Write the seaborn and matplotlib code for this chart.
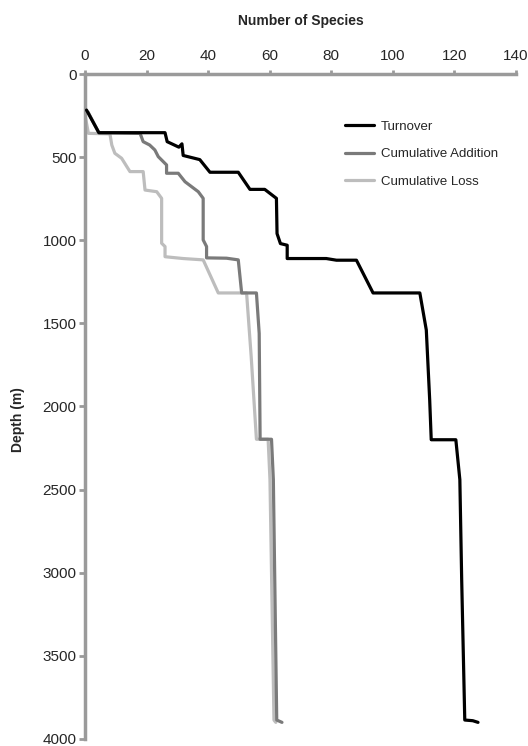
import matplotlib
matplotlib.use("Agg")
import matplotlib.pyplot as plt
import seaborn as sns
import pandas as pd

# values (species count vs depth in m)
turnover_species = [0.5, 4.5, 26, 26.7, 30.5, 31.5, 31.9, 37.3, 40.6, 49.8, 53.6, 58.4, 62.2, 62.4,
                    63.5, 65.7, 65.7, 78.4, 81.7, 88.2, 93.6, 108.8, 110.9, 112, 112.5, 120.5, 121.8,
                    122.4, 123.4, 126, 127.7]
turnover_depth = [217, 353, 353, 407, 440, 420, 490, 515, 591, 591, 694, 694, 748, 960,
                  1020, 1030, 1110, 1110, 1120, 1120, 1317, 1317, 1540, 1960, 2200, 2200, 2440,
                  3044, 3886, 3890, 3900]

addition_species = [1, 4.5, 17.9, 18.9, 21, 22.7, 23.8, 26.5, 26.5, 30.3, 32.5, 36.8, 38.4, 38.4,
                    39.5, 39.5, 46, 49.8, 50.9, 55.7, 56.6, 56.9, 60.6, 61.2, 62.3, 64]
addition_depth = [230, 353, 357, 407, 427, 457, 497, 547, 597, 597, 648, 708, 748, 998,
                  1038, 1106, 1108, 1118, 1317, 1317, 1560, 2197, 2197, 2440, 3886, 3900]

loss_species = [0, 1.1, 8.1, 8.7, 9.7, 11.9, 14.6, 18.9, 19.5, 23.3, 24.9, 24.9, 26, 26,
                31.9, 38.4, 43.3, 52.5, 54, 55.7, 59.5, 60.1, 61.4, 62]
loss_depth = [247, 357, 360, 427, 477, 507, 587, 587, 698, 708, 748, 1018, 1038, 1099,
              1110, 1118, 1317, 1317, 1700, 2197, 2197, 2440, 3886, 3900]

series_names = ['Turnover', 'Cumulative Addition', 'Cumulative Loss']
series_colors = ['#000000', '#7a7a7a', '#bdbdbd']

df = pd.concat([
    pd.DataFrame({'species': turnover_species, 'depth': turnover_depth, 'series': 'Turnover'}),
    pd.DataFrame({'species': addition_species, 'depth': addition_depth, 'series': 'Cumulative Addition'}),
    pd.DataFrame({'species': loss_species, 'depth': loss_depth, 'series': 'Cumulative Loss'}),
], ignore_index=True)

sns.set_style('white')
plt.rcParams['font.family'] = ['Liberation Sans', 'DejaVu Sans']

fig = plt.figure(figsize=(5.28, 7.46), dpi=100)
ax = fig.add_axes([0.161, 0.0094, 0.816, 0.8914])

# draw light lines first so black sits on top
for name, col, z in zip(series_names, series_colors, [3, 2, 1]):
    sns.lineplot(data=df[df['series'] == name], x='species', y='depth', sort=False,
                 estimator=None, color=col, linewidth=2.3, ax=ax, label=name, zorder=z)

ax.set_xlim(0, 140)
ax.set_ylim(4000, 0)
ax.set_xticks(range(0, 141, 20))
ax.set_yticks(range(0, 4001, 500))

ax.xaxis.tick_top()
ax.xaxis.set_label_position('top')
ax.set_xlabel('Number of Species', fontsize=10, fontweight='bold', labelpad=17.5)
ax.set_ylabel('Depth (m)', fontsize=10, fontweight='bold')
ax.yaxis.set_label_coords(-0.139, 0.48)

for s in ['bottom', 'right']:
    ax.spines[s].set_visible(False)
for s in ['top', 'left']:
    ax.spines[s].set_color('#9a9a9a')
    ax.spines[s].set_linewidth(2.5)

ax.tick_params(axis='x', which='both', direction='out', length=3, width=2, color='#9a9a9a',
               labelsize=11, pad=5, top=True, bottom=False)
ax.tick_params(axis='y', which='both', direction='out', length=4, width=2, color='#9a9a9a',
               labelsize=11, pad=2, left=True)

ax.legend(frameon=False, fontsize=9.5, loc='upper left', bbox_to_anchor=(0.653, 0.838),
          bbox_transform=fig.transFigure, borderpad=0, borderaxespad=0,
          handlelength=2.2, handletextpad=0.55, labelspacing=1.15)

fig.savefig('out.png', dpi=100)
